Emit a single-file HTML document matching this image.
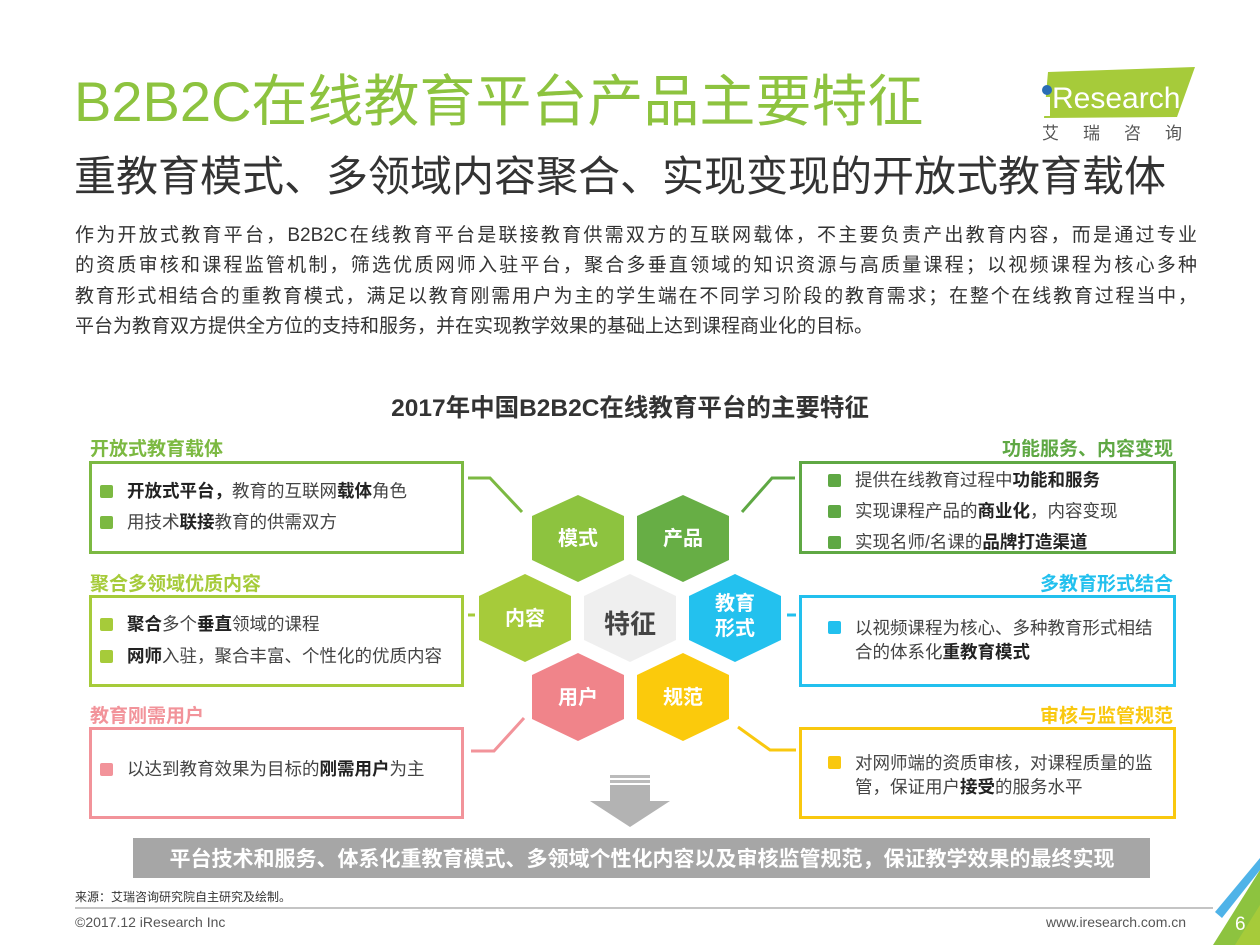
<!DOCTYPE html>
<html><head><meta charset="utf-8">
<style>
*{margin:0;padding:0;box-sizing:border-box}
body{width:1260px;height:945px;background:#fff;position:relative;overflow:hidden;font-family:"Liberation Sans","Noto Sans CJK SC",sans-serif;color:#333}
.a{position:absolute;white-space:nowrap}
.box{position:absolute;border:3px solid;background:#fff}
.t{position:absolute;font-size:19px;font-weight:bold;white-space:nowrap}
.li{position:absolute;font-size:17.5px;color:#444;white-space:nowrap;line-height:22px}
.li i{position:absolute;left:-27px;top:5px;width:13px;height:13px;border-radius:2px}
b{color:#222}
.pl{position:absolute;left:75px;width:1122px;font-size:19px;line-height:24px;color:#333;text-align:justify;text-align-last:justify;white-space:nowrap}
</style></head><body>
<div class="a" style="left:74px;top:70px;font-size:56px;color:#8dc33f;line-height:64px">B2B2C在线教育平台产品主要特征</div>
<div class="a" style="left:74px;top:152px;font-size:42px;color:#333;line-height:50px">重教育模式、多领域内容聚合、实现变现的开放式教育载体</div>
<div class="pl" style="top:224px">作为开放式教育平台，B2B2C在线教育平台是联接教育供需双方的互联网载体，不主要负责产出教育内容，而是通过专业</div>
<div class="pl" style="top:254px">的资质审核和课程监管机制，筛选优质网师入驻平台，聚合多垂直领域的知识资源与高质量课程；以视频课程为核心多种</div>
<div class="pl" style="top:285px">教育形式相结合的重教育模式，满足以教育刚需用户为主的学生端在不同学习阶段的教育需求；在整个在线教育过程当中，</div>
<div class="pl" style="top:315px;text-align-last:left">平台为教育双方提供全方位的支持和服务，并在实现教学效果的基础上达到课程商业化的目标。</div>

<svg class="a" style="left:1030px;top:60px" width="180" height="90">
<polygon points="18,12 165,7 147,57 14,58" fill="#a6cb3a"/>
<circle cx="17" cy="30" r="5" fill="#2a6db5"/>
<rect x="13" y="37" width="7" height="19" fill="#fff"/>
<text x="22" y="48" font-family="Liberation Sans" font-size="30" fill="#fff">Research</text>
<text x="12" y="79" font-family="Noto Sans CJK SC" font-size="17" fill="#555" letter-spacing="24">艾瑞咨询</text>
</svg>

<div class="a" style="left:0;width:1260px;text-align:center;top:389px;font-size:24.5px;font-weight:bold;color:#333">2017年中国B2B2C在线教育平台的主要特征</div>

<div class="t" style="left:90px;top:434px;color:#7cb942">开放式教育载体</div>
<div class="box" style="left:89px;top:461px;width:375px;height:93px;border-color:#7cb942"></div>
<div class="li" style="left:127px;top:480px"><i style="background:#7cb942"></i><b>开放式平台，</b>教育的互联网<b>载体</b>角色</div>
<div class="li" style="left:127px;top:511px"><i style="background:#7cb942"></i>用技术<b>联接</b>教育的供需双方</div>

<div class="t" style="left:90px;top:569px;color:#a6cb3a">聚合多领域优质内容</div>
<div class="box" style="left:89px;top:595px;width:375px;height:92px;border-color:#a6cb3a"></div>
<div class="li" style="left:127px;top:613px"><i style="background:#a6cb3a"></i><b>聚合</b>多个<b>垂直</b>领域的课程</div>
<div class="li" style="left:127px;top:645px"><i style="background:#a6cb3a"></i><b>网师</b>入驻，聚合丰富、个性化的优质内容</div>

<div class="t" style="left:90px;top:701px;color:#f2939a">教育刚需用户</div>
<div class="box" style="left:89px;top:727px;width:375px;height:92px;border-color:#f2939a"></div>
<div class="li" style="left:127px;top:758px"><i style="background:#f2939a"></i>以达到教育效果为目标的<b>刚需用户</b>为主</div>

<div class="t" style="right:87px;top:434px;color:#5fa844">功能服务、内容变现</div>
<div class="box" style="left:799px;top:461px;width:377px;height:93px;border-color:#5fa844"></div>
<div class="li" style="left:855px;top:469px"><i style="background:#5fa844"></i>提供在线教育过程中<b>功能和服务</b></div>
<div class="li" style="left:855px;top:500px"><i style="background:#5fa844"></i>实现课程产品的<b>商业化</b>，内容变现</div>
<div class="li" style="left:855px;top:531px"><i style="background:#5fa844"></i>实现名师/名课的<b>品牌打造渠道</b></div>

<div class="t" style="right:87px;top:569px;color:#22c0ee">多教育形式结合</div>
<div class="box" style="left:799px;top:595px;width:377px;height:92px;border-color:#22c0ee"></div>
<div class="li" style="left:855px;top:616px;line-height:24px"><i style="background:#22c0ee"></i>以视频课程为核心、多种教育形式相结<br>合的体系化<b>重教育模式</b></div>

<div class="t" style="right:87px;top:701px;color:#f9c80f">审核与监管规范</div>
<div class="box" style="left:799px;top:727px;width:377px;height:92px;border-color:#f9c80f"></div>
<div class="li" style="left:855px;top:751px;line-height:24px"><i style="background:#f9c80f"></i>对网师端的资质审核，对课程质量的监<br>管，保证用户<b>接受</b>的服务水平</div>

<svg class="a" style="left:0;top:0" width="1260" height="945">
<g fill="none" stroke-width="3">
<polyline points="468,478 490,478 522,512" stroke="#7cb942"/>
<polyline points="795,478 772,478 742,512" stroke="#5fa844"/>
<polyline points="468,615 475,615" stroke="#a6cb3a"/>
<polyline points="787,615 796,615" stroke="#22c0ee"/>
<polyline points="471,751 494,751 524,718" stroke="#f2939a"/>
<polyline points="738,727 770,750 796,750" stroke="#f9c80f"/>
</g>
<g font-family="Liberation Sans,Noto Sans CJK SC,sans-serif" font-weight="bold" text-anchor="middle">
<polygon points="578,495 624,516 624,560 578,582 532,560 532,516" fill="#8dc33f"/>
<text x="578" y="545" font-size="20" fill="#fff">模式</text>
<polygon points="683,495 729,516 729,560 683,582 637,560 637,516" fill="#67ae45"/>
<text x="683" y="545" font-size="20" fill="#fff">产品</text>
<polygon points="525,574 571,596 571,640 525,662 479,640 479,596" fill="#a6cb3a"/>
<text x="525" y="625" font-size="20" fill="#fff">内容</text>
<polygon points="630,574 676,596 676,640 630,662 584,640 584,596" fill="#efefef"/>
<text x="630" y="633" font-size="26" fill="#444">特征</text>
<polygon points="735,574 781,596 781,640 735,662 689,640 689,596" fill="#23c1ee"/>
<text x="735" y="610" font-size="20" fill="#fff">教育</text>
<text x="735" y="635" font-size="20" fill="#fff">形式</text>
<polygon points="578,653 624,675 624,719 578,741 532,719 532,675" fill="#f0848a"/>
<text x="578" y="704" font-size="20" fill="#fff">用户</text>
<polygon points="683,653 729,675 729,719 683,741 637,719 637,675" fill="#fbca0c"/>
<text x="683" y="704" font-size="20" fill="#fff">规范</text>
</g>
<rect x="610" y="775" width="40" height="3" fill="#bbb"/>
<rect x="610" y="780" width="40" height="3" fill="#bbb"/>
<polygon points="610,785 650,785 650,801 670,801 630,827 590,801 610,801" fill="#b3b3b3"/>
<rect x="133" y="838" width="1017" height="40" fill="#a6a6a6"/>
<text x="642" y="866" text-anchor="middle" font-family="Liberation Sans,Noto Sans CJK SC,sans-serif" font-weight="bold" font-size="21" fill="#fff">平台技术和服务、体系化重教育模式、多领域个性化内容以及审核监管规范，保证教学效果的最终实现</text>
<line x1="75" y1="908" x2="1213" y2="908" stroke="#888" stroke-width="1"/>
<polygon points="1213,945 1260,870 1260,945" fill="#8dc33f"/>
<polygon points="1215,912 1260,858 1260,870 1222,918" fill="#4fb3e8"/>
<polygon points="1235,945 1260,905 1260,945" fill="#a6cb3a"/>
<text x="1235" y="930" font-family="Liberation Sans" font-size="19" fill="#fff">6</text>
</svg>
<div class="a" style="left:75px;top:888px;font-size:12px;color:#333">来源：艾瑞咨询研究院自主研究及绘制。</div>
<div class="a" style="left:75px;top:914px;font-size:14px;color:#555">©2017.12 iResearch Inc</div>
<div class="a" style="left:1046px;top:914px;font-size:14px;color:#555">www.iresearch.com.cn</div>
</body></html>
